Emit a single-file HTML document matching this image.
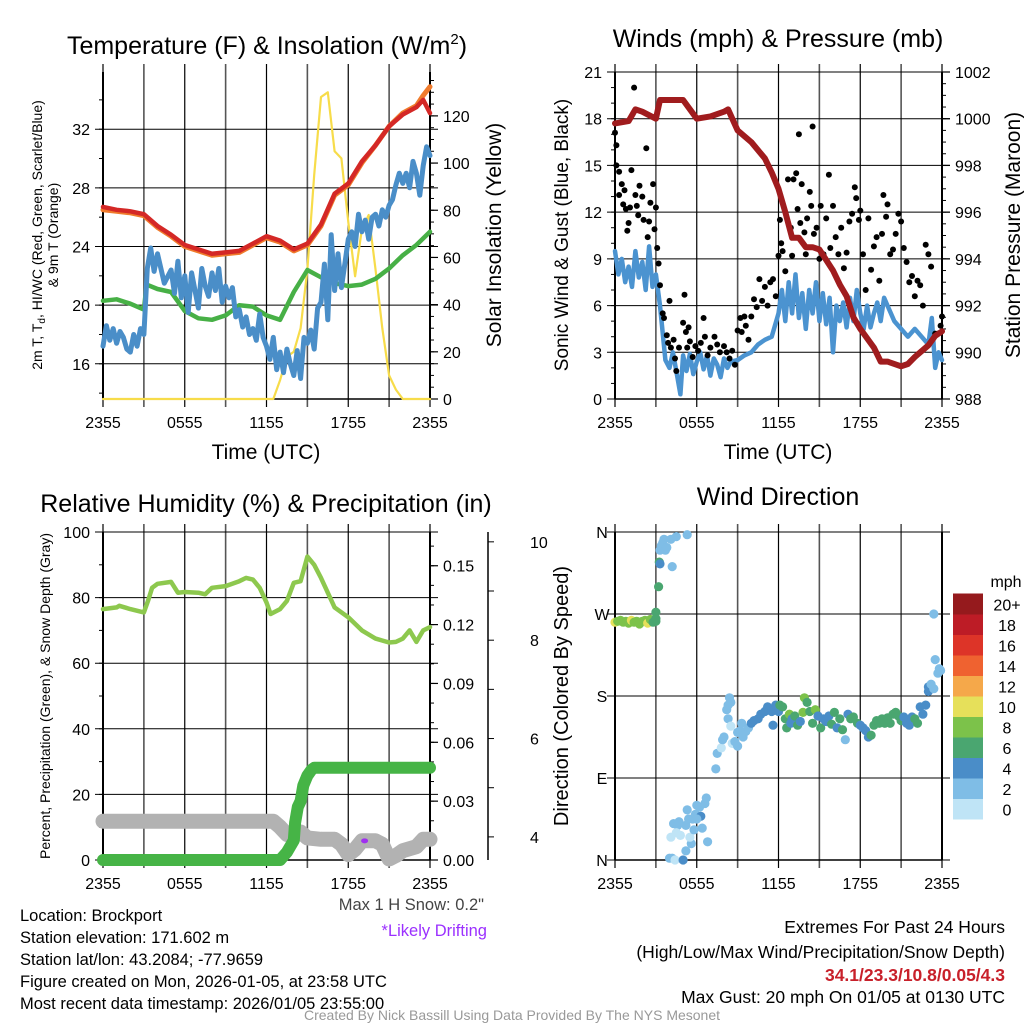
<!DOCTYPE html>
<html><head><meta charset="utf-8"><style>
html,body{margin:0;padding:0;background:#fff}
svg{display:block;font-family:"Liberation Sans",Arial,sans-serif}
</style></head><body>
<svg id="fig" width="1024" height="1024" viewBox="0 0 1024 1024" xmlns="http://www.w3.org/2000/svg">
<rect width="1024" height="1024" fill="#fff"/>
<text x="267" y="54" font-size="25" text-anchor="middle">Temperature (F) &amp; Insolation (W/m<tspan dy="-10" font-size="15">2</tspan><tspan dy="10">)</tspan></text>
<text x="778" y="47" font-size="25" text-anchor="middle">Winds (mph) &amp; Pressure (mb)</text>
<text x="266" y="512" font-size="25" text-anchor="middle">Relative Humidity (%) &amp; Precipitation (in)</text>
<text x="778" y="505" font-size="25" text-anchor="middle">Wind Direction</text>
<text x="266" y="459" font-size="21" text-anchor="middle">Time (UTC)</text>
<text x="778" y="459" font-size="21" text-anchor="middle">Time (UTC)</text>
<text transform="translate(42,235) rotate(-90)" font-size="14" text-anchor="middle">2m T, T<tspan font-size="10" dy="3">d</tspan><tspan dy="-3">, HI/WC (Red, Green, Scarlet/Blue)</tspan></text>
<text transform="translate(58,235) rotate(-90)" font-size="14" text-anchor="middle">&amp; 9m T (Orange)</text>
<text transform="translate(501,235) rotate(-90)" font-size="21" text-anchor="middle">Solar Insolation (Yellow)</text>
<text transform="translate(568,235) rotate(-90)" font-size="19" text-anchor="middle">Sonic Wind &amp; Gust (Blue, Black)</text>
<text transform="translate(1020,235) rotate(-90)" font-size="21" text-anchor="middle">Station Pressure (Maroon)</text>
<text transform="translate(50,696) rotate(-90)" font-size="14" text-anchor="middle">Percent, Precipitation (Green), &amp; Snow Depth (Gray)</text>
<text transform="translate(568,696) rotate(-90)" font-size="20" text-anchor="middle">Direction (Colored By Speed)</text>
<g font-size="16.5">
<text x="20" y="921">Location: Brockport</text>
<text x="20" y="943">Station elevation: 171.602 m</text>
<text x="20" y="965">Station lat/lon: 43.2084; -77.9659</text>
<text x="20" y="987">Figure created on Mon, 2026-01-05, at 23:58 UTC</text>
<text x="20" y="1009">Most recent data timestamp: 2026/01/05 23:55:00</text>
</g>
<text x="484" y="910" font-size="16.5" text-anchor="end" fill="#444">Max 1 H Snow: 0.2"</text>
<text x="487" y="936" font-size="16.5" text-anchor="end" fill="#9b30ff">*Likely Drifting</text>
<g font-size="17.5" text-anchor="end">
<text x="1005" y="933">Extremes For Past 24 Hours</text>
<text x="1005" y="958">(High/Low/Max Wind/Precipitation/Snow Depth)</text>
<text x="1005" y="981" fill="#c8202a" font-weight="bold">34.1/23.3/10.8/0.05/4.3</text>
<text x="1005" y="1003">Max Gust: 20 mph On 01/05 at 0130 UTC</text>
</g>
<text x="512" y="1020" font-size="14" text-anchor="middle" fill="#999">Created By Nick Bassill Using Data Provided By The NYS Mesonet</text>
</svg>
<script>
// ---------- data ----------
var timeTicks = ["2355","0555","1155","1755","2355"];
var tempTimes = [0,1,2,3,4,5,6,7,8,9,10,11,12,13,14,15,16,17,18,19,20,21,22,23,23.5,24];
var tempRed = [26.7,26.5,26.4,26.2,25.4,24.8,24.1,23.8,23.5,23.6,23.7,24.2,24.7,24.4,23.8,24.2,25.5,27.6,28.3,29.8,30.9,32.2,33.0,33.5,34.0,33.1];
var tempOrange = [26.5,26.4,26.3,26.1,25.3,24.7,24.0,23.7,23.4,23.5,23.6,24.1,24.6,24.3,23.7,24.1,25.4,27.5,28.2,29.7,30.9,32.2,33.1,33.6,34.3,34.9];
var dewTimes = [0,1,2,3,3.2,4,5,6,7,8,9,10,11,12,13,14,15,16,17,18,19,20,21,22,23,24];
var dewGreen = [20.3,20.4,20.1,19.7,21.4,21.1,20.9,19.6,19.1,19.0,19.3,20.0,19.9,19.3,19.0,20.9,22.4,21.9,21.5,21.3,21.4,21.8,22.5,23.4,24.1,25.0];
var chillTimes = [0,0.25,0.5,0.75,1,1.25,1.5,1.75,2,2.25,2.5,2.75,3,3.25,3.5,3.75,4,4.5,5,5.25,5.5,5.75,6,6.25,6.5,6.75,7,7.25,7.5,7.75,8,8.25,8.5,8.75,9,9.25,9.5,9.75,10,10.25,10.5,10.75,11,11.25,11.5,11.75,12,12.25,12.5,12.75,13,13.25,13.5,13.75,14,14.25,14.5,14.75,15,15.25,15.5,15.75,16,16.25,16.5,16.75,17,17.25,17.5,17.75,18,18.25,18.5,18.75,19,19.25,19.5,19.75,20,20.25,20.5,20.75,21,21.25,21.5,21.75,22,22.25,22.5,22.75,23,23.25,23.5,23.75,24];
var chillBlue = [17.2,18.6,17.6,18.4,17.4,18.2,17.8,17.0,16.8,18.0,17.2,18.4,18.0,22.5,23.9,22.3,23.5,21.5,22.4,20.8,23.0,20.5,22.0,19.5,22.2,21.0,19.8,22.5,21.3,20.6,22.2,21.0,22.5,20.2,21.3,20.5,21.2,19.2,19.7,18.5,19.2,18.0,18.4,17.6,19.4,17.8,17.2,16.3,17.8,15.6,16.8,15.4,17.0,16.0,15.2,16.9,15.0,17.8,17.4,18.3,17.0,19.8,20.2,22.8,19.0,24.8,21.0,23.5,21.2,22.8,24.5,25.0,24.0,26.2,25.0,25.8,24.5,26.0,26.2,25.4,26.5,26.0,26.8,27.2,28.2,29.0,28.3,29.0,28.0,29.8,29.0,27.5,29.5,30.8,30.2,31.2,30.5];
var solarTimes = [0,12.5,13,13.5,14,14.5,15,15.5,16,16.5,17,17.5,18,18.5,19,19.5,20,20.5,21,21.5,22,24];
var solarValues = [0,0,8,18,20,30,55,95,128,130,105,102,75,52,72,78,55,30,10,4,0,0];
var pressTimes = [0,1,1.5,2,3,3.3,4,5,6,7,8,8.3,9,10,11,11.5,12,12.5,13,13.5,14,14.5,15,16,16.5,17,17.5,18,19,19.5,20,21,21.5,22,23,23.5,24];
var pressValues = [999.8,999.9,1000.4,1000.3,1000.0,1000.8,1000.8,1000.8,1000.0,1000.1,1000.3,1000.4,999.5,999.0,998.3,997.7,997.0,996.0,994.9,994.9,994.5,994.5,994.4,993.5,992.9,992.4,991.5,991.0,990.2,989.6,989.6,989.4,989.5,989.8,990.3,990.7,990.9];
var windTimes = [0,0.25,0.5,0.75,1,1.25,1.5,1.75,2,2.25,2.5,2.75,3,3.3,3.7,4,4.25,4.5,4.8,5,5.25,5.5,5.75,6,6.25,6.5,6.75,7,7.25,7.5,7.75,8,8.25,8.5,9,9.5,10,10.5,11,11.5,12,12.25,12.5,12.75,13,13.25,13.5,13.75,14,14.25,14.5,14.75,15,15.25,15.5,15.75,16,16.25,16.5,16.75,17,17.25,17.5,17.75,18,18.25,18.5,18.75,19,19.25,19.5,19.75,20,20.5,21,21.5,22,22.5,23,23.25,23.5,23.75,24];
var windValues = [9.5,8.0,9.0,7.5,8.5,7.2,9.5,7.8,8.8,7.0,9.8,7.2,8.0,6.0,2.5,2.0,3.0,1.8,0.3,2.8,1.8,2.9,1.6,2.4,3.0,1.9,2.8,1.5,2.6,2.2,1.4,2.6,2.0,2.4,2.5,2.8,3.0,3.5,3.8,4.0,5.5,7.0,5.0,7.5,5.5,8.0,5.2,6.8,4.5,7.0,5.5,7.5,5.0,6.8,4.8,6.5,3.0,6.0,5.0,6.2,4.6,6.5,5.0,7.0,5.5,4.5,6.0,4.6,5.5,6.2,5.0,6.5,6.0,5.0,4.5,4.0,4.5,4.0,3.5,5.2,2.0,3.0,2.5];
var gustTimes = [0,0.1,0.1,0.3,0.3,0.5,0.6,0.7,0.8,0.9,1.0,1.1,1.2,1.4,1.5,1.6,1.7,1.8,2.0,2.1,2.3,2.4,2.5,2.6,2.8,2.9,3.0,3.1,3.2,3.3,
3.5,3.6,3.8,3.9,4.0,4.1,4.3,4.4,4.5,4.7,5.0,5.1,5.2,5.3,5.4,5.5,5.7,5.9,6.1,6.3,6.5,6.6,6.8,7.0,7.3,7.5,7.7,8.0,8.2,8.4,8.6,8.8,
9.0,9.2,9.3,9.5,9.6,9.8,10.0,10.2,10.4,10.6,10.8,11.0,11.2,11.4,11.6,11.8,12.0,12.1,12.2,12.3,12.5,12.7,12.9,13.0,
13.1,13.3,13.4,13.5,13.6,13.7,13.9,14.0,14.1,14.3,14.4,14.5,14.6,14.8,15.0,15.1,15.3,15.5,15.7,15.8,16.0,16.2,16.4,16.6,16.8,17.0,17.2,17.4,17.6,17.7,17.9,18.0,18.2,18.4,18.6,18.8,19.0,19.2,19.4,19.6,19.7,19.9,20.0,20.2,20.4,20.6,20.8,21.0,21.2,21.4,21.6,21.8,22.0,22.2,22.4,22.6,22.8,23.0,23.2,23.5,23.7,23.9,24.0];
var gustValues = [17.1,16.3,15,14.6,13.1,13.8,12.5,13.4,12.2,10.8,11.3,12.3,14.7,20,13.1,12.4,11.8,13.7,13.0,11.5,16.1,10.4,11.4,12.6,13.8,10.9,12.3,9.7,8.7,7.3,
5.5,5.2,4.1,3.6,6.3,3.3,3.8,2.6,1.8,3.3,4.9,6.7,4.3,3.3,4.6,3.7,2.7,3.4,3.1,3.6,5.2,4.0,2.8,3.3,4.0,3.5,3.0,3.4,3.0,2.6,3.1,2.2,
4.4,5.2,4.3,5.3,4.7,3.8,5.3,6.4,5.9,7.7,6.3,7.2,6.0,7.5,7.7,6.6,9.2,11.5,10.0,9.5,8.2,14.1,11.0,9.2,
14.1,14.5,12.2,17,11.3,13.8,10.7,9.3,11.6,13.3,12.4,17.5,10.6,11.0,9.0,12.4,9.3,11.6,14.4,9.7,12.4,10.4,9.3,11.0,8.4,9.4,11.4,11.9,13.6,12.9,11.5,12.1,9.3,7.0,11.6,8.3,9.8,10.4,7.6,10.6,13.1,11.7,12.5,9.3,9.6,10.6,11.9,11.4,9.7,8.8,7.5,7.9,6.6,7.6,7.3,6.0,9.9,9.3,8.5,4.2,4.2,4.7,5.3];
var rhTimes = [0,1,1.2,2,3,3.3,3.6,4,5,5.5,6,7,7.5,8,9,10,10.5,11,11.5,12,12.3,13,13.5,14,14.5,15,15.5,16,17,18,19,20,21,21.5,22,22.5,23,23.5,24];
var rhValues = [76.5,77,77.5,76.5,75.5,79,83,84.2,84.8,81.5,81.7,81.5,81.0,83,83.5,85,86,85.5,83,78.5,75,76.5,79,84.5,85,92.5,90,86,77,74,70,67.5,66.3,66.5,67.5,70,66.5,70,71];
var precipTimes = [0,13,13.5,14,14.1,14.3,14.5,14.7,15,15.3,15.5,24];
var precipValues = [0,0,0.004,0.01,0.019,0.027,0.03,0.038,0.043,0.046,0.047,0.047];
var snowTimes = [0,12.5,13,13.5,14,14.5,15,16,17,17.5,18,18.5,19,20,20.5,21,21.5,22,23,23.5,24];
var snowValues = [4.32,4.32,4.2,4.05,4.1,4.1,3.98,3.95,3.95,3.85,3.64,3.75,3.92,3.92,3.85,3.55,3.62,3.72,3.8,3.95,3.95];
var driftTime = 19.2;
var driftValue = 3.92;
var dirTimes = [0,0.2,0.4,0.6,0.8,1.0,1.2,1.4,1.6,1.8,2.0,2.2,2.4,2.6,2.8,
3.0,3.0,3.0,3.2,3.25,3.3,3.3,3.4,3.5,3.6,3.7,3.8,4.1,4.2,4.5,5.3,
4.0,4.2,4.4,4.1,4.3,4.6,4.5,4.7,4.8,5.0,5.2,5.2,5.4,5.6,5.3,5.7,5.9,6.0,6.3,6.4,6.0,6.2,6.6,6.7,6.8,5.5,5.8,
7.4,7.5,7.8,7.9,8.0,8.2,8.3,8.4,8.5,8.3,8.5,8.6,8.8,9.0,9.0,9.2,9.4,9.6,9.3,9.8,10.0,10.2,10.5,10.7,11.0,11.2,11.5,11.6,11.8,12.0,
12.1,12.3,12.5,12.6,12.8,12.9,13.0,13.2,13.4,13.6,13.8,13.9,14.1,14.3,14.5,14.7,14.9,15.1,15.3,15.5,15.7,15.9,16.1,16.3,16.5,16.7,16.9,17.1,17.3,17.5,17.8,18.0,18.2,18.4,18.6,18.8,19.0,19.2,19.4,19.6,19.8,20.0,20.2,20.4,20.6,20.8,21.0,21.2,21.4,21.6,21.8,22.0,22.2,22.4,22.6,22.8,23.0,23.0,23.2,23.4,23.5,23.7,23.8,23.4,23.9];
var dirValues = [261,262,263,261,262,260,263,261,262,259,262,263,260,264,261,
262,265,272,300,327,325,340,345,348,352,340,343,352,322,355,357,
2,2,0,25,40,38,30,42,27,0,10,38,45,18,55,45,50,60,48,35,45,58,62,68,20,25,33,
100,117,123,132,135,165,170,178,173,155,147,128,130,140,125,142,135,141,150,145,150,153,155,160,163,168,163,148,170,163,
170,168,155,145,160,150,155,158,148,152,162,178,173,163,150,165,158,145,155,152,158,149,162,145,155,143,132,160,155,157,150,148,145,142,135,137,148,153,150,155,150,156,150,160,162,158,153,157,150,148,157,155,150,168,160,170,190,185,193,188,220,205,210,270,208];
var dirSpeeds = [10,9,8,8,9,8,10,8,9,8,8,9,10,8,6,
6,6,6,6,6,4,2,2,2,2,2,2,2,2,2,2,
2,2,1,1,2,2,1,2,1,4,2,2,2,2,2,3,3,2,4,2,2,2,2,2,2,1,2,
2,2,1,2,2,2,2,2,2,2,1,1,2,2,2,2,2,2,2,2,4,4,4,4,4,4,4,4,4,4,
6,6,6,6,8,4,4,6,6,4,8,8,6,6,6,8,4,6,4,4,4,6,6,4,6,6,2,4,6,6,6,4,4,4,4,6,6,6,6,6,6,6,6,6,6,6,6,4,4,4,4,6,6,4,4,4,4,4,2,2,2,2,2,2,2];
var speedBinLabels = ["0","2","4","6","8","10","12","14","16","18","20+"];
var speedBinColors = ["#bfe4f6","#7fbde6","#4a8dc8","#4aa670","#7cc24a","#e6e05a","#f5a84a","#ef6230","#dd3428","#bd1c26","#951a1d"];

// ---------- helpers ----------
var NS = "http://www.w3.org/2000/svg";
var svg = document.getElementById("fig");
function mk(tag, name, parent) {
  var el = document.createElementNS(NS, tag);
  
  
  (parent || svg).appendChild(el);
  return el;
}
function ln(x1,y1,x2,y2,stroke,w,name,parent){
  var l = mk("line", name, parent);
  l.setAttribute("x1",x1); l.setAttribute("y1",y1); l.setAttribute("x2",x2); l.setAttribute("y2",y2);
  l.setAttribute("stroke",stroke); l.setAttribute("stroke-width",w);
  return l;
}
function tx(x,y,s,size,anchor,name,parent){
  var t = mk("text", name, parent);
  t.setAttribute("x",x); t.setAttribute("y",y); t.setAttribute("font-size",size); t.setAttribute("text-anchor",anchor);
  t.textContent = s; return t;
}
function scale(d0,d1,r0,r1){ return function(v){ return r0 + (v-d0)/(d1-d0)*(r1-r0); }; }
function poly(xs, ys, xf, yf, color, w, name, parent){
  var p = mk("polyline", name, parent), pts = [];
  for (var i=0;i<xs.length;i++) pts.push(xf(xs[i]).toFixed(1)+","+yf(ys[i]).toFixed(1));
  p.setAttribute("points", pts.join(" "));
  p.setAttribute("fill","none"); p.setAttribute("stroke",color); p.setAttribute("stroke-width",w);
  p.setAttribute("stroke-linejoin","round"); p.setAttribute("stroke-linecap","round");
  return p;
}
function fmt(v,d){ return d===undefined ? String(v) : v.toFixed(d); }

function panel(P, prefix){
  var g = mk("g", prefix+"-plot-area");
  var x = scale(0,24,P.x0,P.x1);
  for (var h=0; h<=24; h+=3){
    var major = (h%6===0);
    ln(x(h), P.y0-8, x(h), P.y1+8, major?"#000":"#555", major?1.2:1.6, prefix+"-x-gridline", g);
  }
  for (var i=0;i<timeTicks.length;i++) tx(x(i*6), P.y1+29, timeTicks[i], 16, "middle", prefix+"-x-tick-label", g);
  var y = scale(P.l0,P.l1,P.y1,P.y0);
  for (var v=P.lmin0; v<=P.l1+1e-9; v+=P.lminor) ln(P.x0-4, y(v), P.x0, y(v), "#000", 1, prefix+"-left-minor-tick", g);
  for (var v2=P.lt0; v2<=P.l1+1e-9; v2+=P.lstep){
    ln(P.x0-8, y(v2), P.x1+8, y(v2), "#000", 1, prefix+"-y-gridline", g);
    var lab = P.llabels ? P.llabels[Math.round((v2-P.lt0)/P.lstep)] : fmt(v2);
    tx(P.x0-13, y(v2)+6, lab, 16, P.llabels?"middle":"end", prefix+"-left-tick-label", g);
  }
  ln(P.x0, P.y0, P.x0, P.y1, "#000", 2, prefix+"-left-axis-line", g);
  ln(P.x1, P.y0, P.x1, P.y1, "#000", 2, prefix+"-right-axis-line", g);
  ln(P.x0, P.y1, P.x1, P.y1, "#000", 1.5, prefix+"-bottom-axis-line", g);
  if (P.r0 !== undefined){
    var yr = scale(P.r0,P.r1,P.y1,P.y0);
    for (var m=P.r0; m<=P.rmax+1e-9; m+=P.rminor) ln(P.x1, yr(m), P.x1+4, yr(m), "#000", 1, prefix+"-right-minor-tick", g);
    for (var k=P.r0; k<=P.rmax+1e-9; k+=P.rstep){
      ln(P.x1, yr(k), P.x1+8, yr(k), "#000", 1.2, prefix+"-right-tick", g);
      tx(P.x1+13, yr(k)+6, fmt(k,P.rdec), 16, "start", prefix+"-right-tick-label", g);
    }
  }
  return {x:x, y:y, g:g};
}

// ---------- panel 1: temperature ----------
var P1 = {x0:103,x1:430,y0:72,y1:399, l0:13.6,l1:35.9, lt0:16, lstep:4, lmin0:14, lminor:2, r0:0, r1:138.6, rmax:135, rstep:20, rminor:5, rdec:0};
var a1 = panel(P1, "temp");
var ys1 = scale(P1.r0,P1.r1,P1.y1,P1.y0);
poly(solarTimes, solarValues, a1.x, ys1, "#f7dc4a", 2.2, "solar-insolation-line", a1.g);
poly(dewTimes, dewGreen, a1.x, a1.y, "#47b046", 4.5, "dewpoint-line", a1.g);
poly(chillTimes, chillBlue, a1.x, a1.y, "#4a8ec8", 5, "wind-chill-line", a1.g);
poly(tempTimes, tempOrange, a1.x, a1.y, "#f07b2c", 5, "temp-9m-line", a1.g);
poly(tempTimes, tempRed, a1.x, a1.y, "#d42826", 4.5, "temp-2m-line", a1.g);

// ---------- panel 2: wind & pressure ----------
var P2 = {x0:615,x1:942,y0:72,y1:399, l0:0,l1:21, lt0:0, lstep:3, lmin0:0, lminor:1, r0:988, r1:1002, rmax:1002, rstep:2, rminor:0.5, rdec:0};
var a2 = panel(P2, "wind");
var yp2 = scale(P2.r0,P2.r1,P2.y1,P2.y0);
poly(windTimes, windValues, a2.x, a2.y, "#4b93d0", 4.5, "sonic-wind-line", a2.g);
for (var i=0;i<gustTimes.length;i++){
  var c = mk("circle", "gust-point", a2.g);
  c.setAttribute("cx", a2.x(gustTimes[i]).toFixed(1)); c.setAttribute("cy", a2.y(gustValues[i]).toFixed(1));
  c.setAttribute("r", 3); c.setAttribute("fill", "#000");
}
poly(pressTimes, pressValues, a2.x, yp2, "#a01c1e", 6, "pressure-line", a2.g);

// ---------- panel 3: RH & precip ----------
var P3 = {x0:103,x1:430,y0:532,y1:860, l0:0,l1:100, lt0:0, lstep:20, lmin0:0, lminor:10, r0:0, r1:0.1672, rmax:0.165, rstep:0.03, rminor:0.01, rdec:2};
var a3 = panel(P3, "rh");
var yp3 = scale(P3.r0,P3.r1,P3.y1,P3.y0);
var snowAxis = scale(3.53,10.2,P3.y1,P3.y0);
ln(488, P3.y0, 488, P3.y1, "#000", 1.5, "snow-depth-axis-line", a3.g);
for (var s=4; s<=10; s++){
  ln(488, snowAxis(s), 494, snowAxis(s), "#000", 1, "snow-depth-tick", a3.g);
  if (s%2===0) tx(530, snowAxis(s)+6, String(s), 16, "start", "snow-depth-tick-label", a3.g);
}
poly(snowTimes, snowValues, a3.x, snowAxis, "#b2b2b2", 15, "snow-depth-line", a3.g);
poly(precipTimes, precipValues, a3.x, yp3, "#46b446", 12, "precipitation-line", a3.g);
poly(rhTimes, rhValues, a3.x, a3.y, "#8dc84e", 4.5, "relative-humidity-line", a3.g);
var dd = mk("ellipse", "drifting-marker", a3.g);
dd.setAttribute("cx", a3.x(driftTime)); dd.setAttribute("cy", snowAxis(driftValue));
dd.setAttribute("rx", 3.5); dd.setAttribute("ry", 2.5); dd.setAttribute("fill", "#a030f0");

// ---------- panel 4: wind direction ----------
var P4 = {x0:615,x1:942,y0:532,y1:860, l0:0,l1:360, lt0:0, lstep:90, lmin0:0, lminor:90, llabels:["N","E","S","W","N"]};
var a4 = panel(P4, "dir");
for (var i=0;i<dirTimes.length;i++){
  var bin = Math.min(10, Math.floor(dirSpeeds[i]/2));
  var c2 = mk("circle", "direction-point", a4.g);
  c2.setAttribute("cx", a4.x(dirTimes[i]).toFixed(1)); c2.setAttribute("cy", a4.y(dirValues[i]).toFixed(1));
  c2.setAttribute("r", 4.6); c2.setAttribute("fill", speedBinColors[bin]);
}
var lg = mk("g", "speed-colorbar");
tx(1006, 587, "mph", 16, "middle", "colorbar-title", lg);
for (var b=0;b<speedBinColors.length;b++){
  var yb = 819 - (b+1)*20.5;
  var r = mk("rect", "colorbar-swatch", lg);
  r.setAttribute("x",953); r.setAttribute("y",yb.toFixed(1)); r.setAttribute("width",30); r.setAttribute("height",21);
  r.setAttribute("fill", speedBinColors[b]);
  tx(1007, yb+17, speedBinLabels[b], 16, "middle", "colorbar-label", lg);
}
</script>
</body></html>
